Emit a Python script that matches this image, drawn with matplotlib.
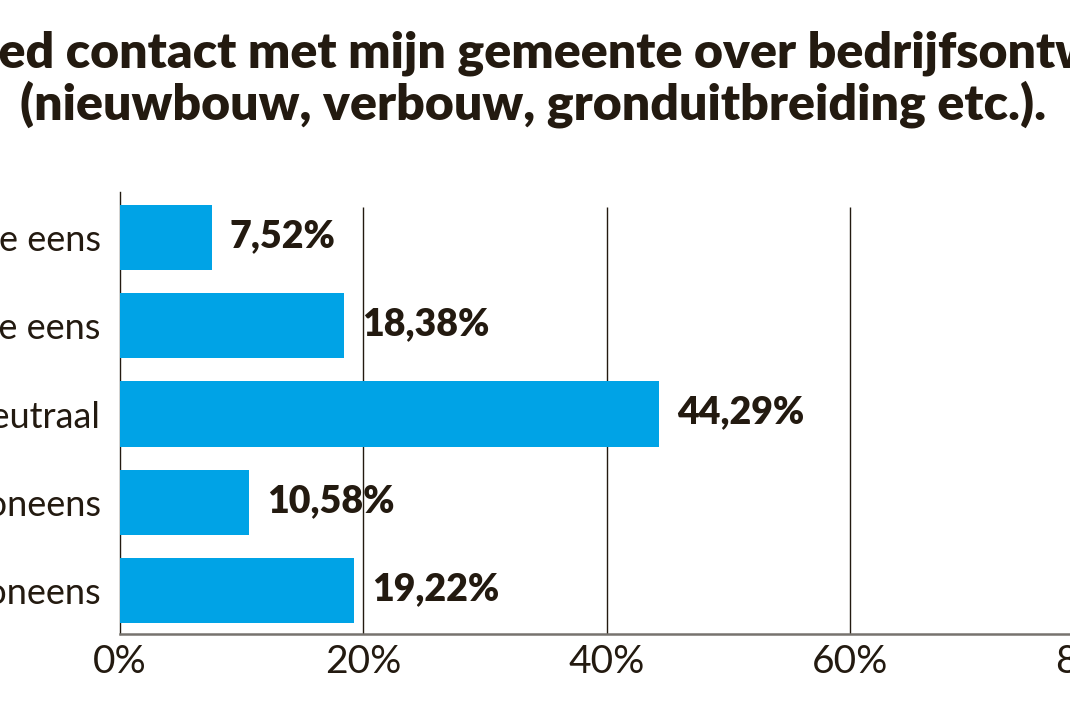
import matplotlib
matplotlib.use("Agg")
import matplotlib.pyplot as plt

# data
categories = ["Helemaal mee eens", "Mee eens", "Neutraal", "Mee oneens", "Helemaal mee oneens"]
values = [7.52, 18.38, 44.29, 10.58, 19.22]
ticks = [0, 20, 40, 60, 80, 100]
tick_labels = ["0%", "20%", "40%", "60%", "80%", "100%"]
title_1 = "Ik heb goed contact met mijn gemeente over bedrijfsontwikkeling"
title_2 = "(nieuwbouw, verbouw, gronduitbreiding etc.)."

ink = "#231a10"
blue = "#00a3e6"

plt.rcParams["font.family"] = ["Lato", "DejaVu Sans"]

fig = plt.figure(figsize=(10.7, 7.13), dpi=100)
# axes runs past the right edge of the picture, like the cropped original
ax = fig.add_axes([120 / 1070, 79 / 713, 1217 / 1070, 442 / 713])

y = list(range(len(categories)))
ax.barh(y, values, height=0.737, color=blue, zorder=3)

ax.set_xlim(0, 100)
ax.set_ylim(4.493, -0.516)

# vertical grid lines, not reaching the top of the axes
ax.vlines(ticks[1:], -0.35, 4.493, color=ink, lw=1.0, zorder=2)

for i, v in enumerate(values):
    ax.annotate(f"{v:.2f}%".replace(".", ","), (v, i), xytext=(13, 1),
                textcoords="offset points", va="center", ha="left",
                fontsize=27, fontweight="heavy", color=ink)

ax.set_yticks(y)
ax.set_yticklabels(categories, fontsize=26, color=ink)
ax.set_xticks(ticks)
ax.set_xticklabels(tick_labels, fontsize=28, color=ink)
ax.tick_params(axis="y", length=0, pad=14)
ax.tick_params(axis="x", length=0, pad=7)

for s in ["top", "right"]:
    ax.spines[s].set_visible(False)
ax.spines["left"].set_color(ink)
ax.spines["left"].set_linewidth(1.0)
ax.spines["bottom"].set_color("#77736e")
ax.spines["bottom"].set_linewidth(1.8)

fig.text(533 / 1070, 1 - 67 / 713, title_1, ha="center", va="baseline",
         fontsize=36, fontweight="heavy", color=ink)
fig.text(533 / 1070, 1 - 119 / 713, title_2, ha="center", va="baseline",
         fontsize=36, fontweight="heavy", color=ink)

fig.savefig("out.png", dpi=100)
